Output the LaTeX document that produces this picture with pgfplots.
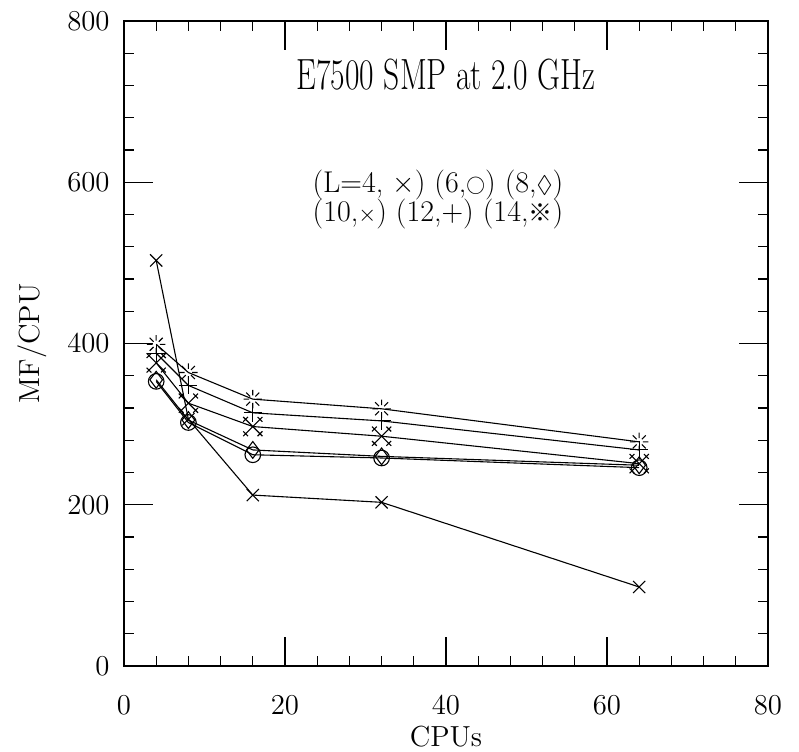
\documentclass[border=0pt]{standalone}
\usepackage{amsmath,amssymb}
\usepackage{graphicx}
\usepackage{fontspec}
\newfontfamily\cjk{Noto Sans CJK SC}
\usepackage{pgfplots}
\pgfplotsset{compat=1.18}

% x with small crosses at the four ends (L=10)
\pgfdeclareplotmark{xx}{%
  \pgfpathmoveto{\pgfqpoint{-\pgfplotmarksize}{-\pgfplotmarksize}}%
  \pgfpathlineto{\pgfqpoint{\pgfplotmarksize}{\pgfplotmarksize}}%
  \pgfpathmoveto{\pgfqpoint{-\pgfplotmarksize}{\pgfplotmarksize}}%
  \pgfpathlineto{\pgfqpoint{\pgfplotmarksize}{-\pgfplotmarksize}}%
  \foreach \sx/\sy in {1/1,1/-1,-1/1,-1/-1}{%
    \pgfpathmoveto{\pgfpoint{\sx*\pgfplotmarksize-1.2pt}{\sy*\pgfplotmarksize-1.2pt}}%
    \pgfpathlineto{\pgfpoint{\sx*\pgfplotmarksize+1.2pt}{\sy*\pgfplotmarksize+1.2pt}}%
    \pgfpathmoveto{\pgfpoint{\sx*\pgfplotmarksize-1.2pt}{\sy*\pgfplotmarksize+1.2pt}}%
    \pgfpathlineto{\pgfpoint{\sx*\pgfplotmarksize+1.2pt}{\sy*\pgfplotmarksize-1.2pt}}%
  }%
  \pgfusepathqstroke}

% eight broken rays, empty centre (L=14)
\pgfdeclareplotmark{dstar}{%
  \foreach \a in {0,45,...,315}{%
    \pgfpathmoveto{\pgfpointpolar{\a}{0.4\pgfplotmarksize}}%
    \pgfpathlineto{\pgfpointpolar{\a}{\pgfplotmarksize}}%
  }%
  \pgfusepathqstroke}

\begin{document}
\begin{tikzpicture}
% page frame: same margins round the axis box as the reference
\path[use as bounding box] (-62pt,-42.5pt) rectangle (337.5pt,333pt);
\begin{axis}[
  at={(0,0)}, anchor=south west,
  scale only axis,
  width=322pt, height=322.5pt,
  xmin=0, xmax=80, ymin=0, ymax=800,
  xtick={0,20,...,80}, ytick={0,200,...,800},
  minor x tick num=4, minor y tick num=4,
  tick align=inside,
  major tick length=14.5pt, minor tick length=4.8pt,
  every tick/.style={black, line width=0.6pt},
  axis line style={line width=0.7pt},
  tick label style={font=\fontsize{15}{17}\selectfont},
  xticklabel style={anchor=center, inner sep=0pt, yshift=-19.5pt},
  yticklabel style={anchor=east, inner sep=0pt, xshift=-7pt},
  xlabel={CPUs}, ylabel={MF/CPU},
  label style={font=\fontsize{14.5}{17}\selectfont, inner sep=0pt},
  xlabel style={at={(axis description cs:0.5,-0.109)}, anchor=center},
  ylabel style={at={(axis description cs:-0.143,0.5)}, anchor=center},
  every axis plot/.append style={black, line width=0.55pt, mark options={solid, line width=0.55pt}},
]

% L=4
\addplot[mark=x, mark size=4.3pt] coordinates {
  (4,503) (8,306) (16,212) (32,203) (64,98)
};
% L=6
\addplot[mark=o, mark size=3.9pt] coordinates {
  (4,353) (8,302) (16,262) (32,258) (64,246)
};
% L=8
\addplot[mark=diamond, mark size=4.2pt] coordinates {
  (4,355) (8,305) (16,268) (32,260) (64,249)
};
% L=10
\addplot[mark=xx, mark size=3.6pt] coordinates {
  (4,376) (8,326) (16,297) (32,285) (64,251)
};
% L=12
\addplot[mark=+, mark size=4.5pt] coordinates {
  (4,388) (8,348) (16,314) (32,304) (64,268)
};
% L=14
\addplot[mark=dstar, mark size=4.6pt] coordinates {
  (4,399) (8,364) (16,331) (32,319) (64,278)
};

\node[anchor=center] at (axis cs:40,733)
  {\scalebox{0.83}[1.15]{\fontsize{19}{22}\selectfont E7500 SMP at 2.0 GHz}};
\node[anchor=center, font=\fontsize{15}{17}\selectfont] at (axis cs:39,597)
  {(L=4, $\times$) (6,\raisebox{0.1ex}{\scalebox{0.65}{$\bigcirc$}}) (8,\scalebox{0.8}{$\Diamond$})};
\node[anchor=center, font=\fontsize{15}{17}\selectfont] at (axis cs:39,560)
  {(10,\scalebox{0.8}{$\times$}) (12,+) (14,{\cjk\fontsize{12}{13}\selectfont ※})};
\end{axis}
\end{tikzpicture}
\end{document}
